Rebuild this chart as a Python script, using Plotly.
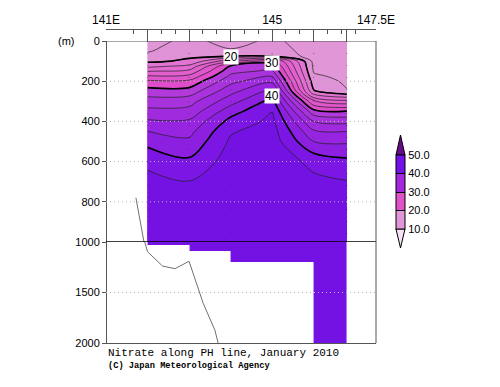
import plotly.graph_objects as go

# ---------------- data ----------------
station_lon = [142.0, 143.0, 144.0, 145.0, 146.0, 146.8]
depth_m = [0, 25, 50, 75, 100, 125, 150, 175, 200, 250, 300, 350, 400, 450, 500, 600, 700, 800, 1000]

no3_142E = [17.0, 17.4, 17.8, 18.6, 19.6, 21.4, 23.9, 26.2, 28.4, 30.9, 32.9, 34.6, 36.3, 38.05, 39.3, 41.7, 42.4, 42.7, 43.3]
no3_143E = [18.7, 19.05, 19.4, 19.75, 20.3, 22.5, 24.5, 26.5, 28.4, 30.9, 33.2, 34.7, 36.3, 37.4, 38.4, 40.4, 42.05, 42.6, 43.3]
no3_144E = [17.1, 17.6, 18.35, 20.0, 25.5, 30.25, 31.35, 32.4, 33.4, 35.3, 37.2, 39.15, 40.65, 41.8, 42.3, 42.9, 43.3, 43.5, 43.6]
no3_145E = [18.5, 18.8, 19.2, 19.7, 29.0, 31.0, 32.4, 33.9, 35.5, 38.7, 40.7, 41.95, 42.5, 42.9, 43.1, 43.4, 43.5, 43.5, 43.6]
no3_146E = [16.8, 16.9, 17.0, 17.2, 17.4, 17.6, 17.85, 18.3, 18.9, 20.2, 26.2, 30.7, 34.0, 36.3, 38.0, 41.4, 42.5, 42.8, 43.2]
no3_1468E = [16.8, 16.9, 17.0, 17.1, 17.2, 17.3, 17.4, 17.5, 17.7, 18.1, 24.6, 30.1, 33.4, 36.0, 37.7, 40.5, 42.1, 42.6, 43.0]

# deep part (below 1000 m): cell edges and values (None = below sea floor)
deep_lon_edges = [142.0, 143.0, 144.0, 146.0, 146.8]
deep_depth_edges = [1000, 1030, 1090, 1200, 2000]
deep_no3 = [
    [43.0, 43.0, 43.0, 43.0],
    [None, 43.0, 43.0, 43.0],
    [None, None, 43.0, 43.0],
    [None, None, None, 43.0],
]

# bottom topography profile
bathy_lon = [141.72, 141.94, 142.0, 142.36, 142.66, 143.0, 143.34, 143.62, 143.70]
bathy_depth = [780, 1010, 1096, 1238, 1264, 1191, 1607, 1871, 2000]

# contour labels (level, lon, depth)
label_levels = ["20", "30", "40"]
label_lon = [144.0, 145.0, 145.0]
label_depth = [78, 110, 272]

x_tick_vals = [141, 142, 143, 144, 145, 146, 146.8, 147.5]
x_tick_text = ["141E", "", "", "", "145", "", "", "147.5E"]
x_minor_vals = [141.67, 142.33, 142.67, 143.33, 143.67, 144.33, 144.67,
                145.33, 145.67, 146.33, 146.67, 147.0]
y_upper_ticks = [0, 200, 400, 600, 800, 1000]
y_lower_ticks = [1500, 2000]

cbar_levels = [10, 20, 30, 40, 50]
cbar_text = ["10.0", "20.0", "30.0", "40.0", "50.0"]

# ---------------- colours ----------------
band_mid = [9, 11, 13, 15, 17, 19, 21, 23, 25, 27, 29, 31, 33, 35, 37, 39, 41, 43, 45, 47, 49, 51]
band_col = ["#f3dff3", "#e198d8", "#e198d8", "#e198d8", "#e196d8", "#e092d7",
            "#e274d3", "#e26ad1", "#e160ce", "#e056cc", "#df4dca",
            "#b33ada", "#a832dc", "#9f2ade", "#9624e0", "#8d1fe1",
            "#7c16e5", "#7412e4", "#7010e2", "#7010e2", "#7010e2", "#640a8c"]
cs = [[(v - 9) / 42, c] for v, c in zip(band_mid, band_col)]

z = [list(r) for r in zip(no3_142E, no3_143E, no3_144E, no3_145E, no3_146E, no3_1468E)]

fig = go.Figure()

fig.add_trace(go.Contour(
    x=station_lon, y=depth_m, z=z, xaxis="x", yaxis="y",
    colorscale=cs, zmin=9, zmax=51, showscale=False,
    contours=dict(start=10, end=50, size=2, coloring="fill"),
    line=dict(color="#202020", width=0.7), hoverinfo="skip"))

fig.add_trace(go.Contour(
    x=station_lon, y=depth_m, z=z, xaxis="x", yaxis="y",
    colorscale=[[0, "black"], [1, "black"]], showscale=False,
    contours=dict(start=20, end=40, size=10, coloring="lines"),
    line=dict(width=1.6), hoverinfo="skip"))

fig.add_trace(go.Heatmap(
    x=deep_lon_edges, y=deep_depth_edges, z=deep_no3, xaxis="x2", yaxis="y2",
    colorscale=cs, zmin=9, zmax=51, showscale=False, hoverinfo="skip"))

for ya, xa in (("y", "x"), ("y2", "x2")):
    fig.add_trace(go.Scatter(x=bathy_lon, y=bathy_depth, xaxis=xa, yaxis=ya,
                             mode="lines", line=dict(color="#707070", width=1),
                             hoverinfo="skip", showlegend=False))

# colour bar (dummy trace)
cb_cs = [[0, "#e196d8"], [0.25, "#e196d8"], [0.25, "#e052c9"], [0.5, "#e052c9"],
         [0.5, "#a526dc"], [0.75, "#a526dc"], [0.75, "#7411e8"], [1, "#7411e8"]]
fig.add_trace(go.Scatter(
    x=[140], y=[500], xaxis="x", yaxis="y", mode="markers", showlegend=False,
    marker=dict(size=1, color=[30], cmin=10, cmax=50, colorscale=cb_cs, showscale=True,
                colorbar=dict(x=(396 - 106) / 270, xanchor="left", xpad=0, ypad=0,
                              y=(343 - 192) / 314, yanchor="middle",
                              lenmode="pixels", len=74, thickness=9,
                              outlinewidth=1, outlinecolor="black",
                              tickvals=cbar_levels, ticktext=cbar_text,
                              ticks="inside", ticklen=9, tickcolor="black", tickwidth=1,
                              tickfont=dict(family="Liberation Sans", size=11, color="black"))),
    hoverinfo="skip"))

axis_font = dict(family="Liberation Sans", size=11, color="black")
top_frac = (343 - 41) / 314
mid_frac = (343 - 242) / 314

# the page places the figure 8 px from the top-left corner
fig.update_layout(
    width=492, height=379, margin=dict(l=98, r=124, t=21, b=44, autoexpand=False),
    paper_bgcolor="white", plot_bgcolor="white", showlegend=False,
    xaxis=dict(range=[141, 147.5], anchor="free", position=1, side="top",
               tickvals=x_tick_vals, ticktext=x_tick_text, ticks="inside", ticklen=12,
               tickcolor="#555", showline=True, linecolor="#555", showgrid=False,
               zeroline=False, tickfont=dict(family="Liberation Sans", size=12, color="black"),
               minor=dict(tickvals=x_minor_vals, ticks="inside", ticklen=4, tickcolor="#555")),
    xaxis2=dict(range=[141, 147.5], matches="x", anchor="y2", showline=True, linecolor="#555",
                showticklabels=False, ticks="", showgrid=False, zeroline=False),
    yaxis=dict(domain=[mid_frac, top_frac], range=[1000, 0], anchor="free", position=0,
               tickvals=y_upper_ticks, ticks="outside", ticklen=4, tickcolor="#555",
               showline=True, linecolor="#555", showgrid=False, zeroline=False,
               tickfont=axis_font),
    yaxis2=dict(domain=[0, mid_frac], range=[2000, 1000], anchor="free", position=0,
                tickvals=y_lower_ticks, ticks="outside", ticklen=4, tickcolor="#555",
                showline=True, linecolor="#555", showgrid=False, zeroline=False,
                tickfont=axis_font),
)

shapes = []
for v in y_upper_ticks[1:-1]:
    shapes.append(dict(type="line", xref="x domain", yref="y", x0=0, x1=1, y0=v, y1=v,
                       line=dict(color="#b8b8b8", width=1, dash="1px,3px"), layer="above"))
shapes.append(dict(type="line", xref="x domain", yref="y2", x0=0, x1=1, y0=y_lower_ticks[0],
                   y1=y_lower_ticks[0], line=dict(color="#b8b8b8", width=1, dash="1px,3px"), layer="above"))
for lon in station_lon:
    shapes.append(dict(type="line", xref="x", yref="y", x0=lon, x1=lon, y0=0, y1=1000,
                       line=dict(color="rgba(40,40,40,0.5)", width=1, dash="1px,11px"), layer="above"))
# frame
shapes.append(dict(type="line", xref="x domain", yref="y", x0=0, x1=1, y0=0, y1=0,
                   line=dict(color="#555", width=1), layer="above"))
shapes.append(dict(type="line", xref="x domain", yref="y", x0=0, x1=1, y0=1000, y1=1000,
                   line=dict(color="black", width=1.3), layer="above"))
shapes.append(dict(type="line", xref="x domain", yref="paper", x0=1, x1=1, y0=0, y1=top_frac,
                   line=dict(color="#555", width=1), layer="above"))
# colour bar end triangles (page pixel -> paper fraction)
def px(xp, yp):
    return (xp - 106) / 270, (343 - yp) / 314
t = [px(396, 155), px(405, 155), px(400.5, 135)]
b = [px(396, 229), px(405, 229), px(400.5, 248)]
shapes.append(dict(type="path", xref="paper", yref="paper",
                   path="M %f %f L %f %f L %f %f Z" % (t[0] + t[1] + t[2]),
                   fillcolor="#650b8c", line=dict(color="black", width=1)))
shapes.append(dict(type="path", xref="paper", yref="paper",
                   path="M %f %f L %f %f L %f %f Z" % (b[0] + b[1] + b[2]),
                   fillcolor="#f6e4f6", line=dict(color="black", width=1)))
fig.update_layout(shapes=shapes)

ann = []
for txt, lo, d in zip(label_levels, label_lon, label_depth):
    ann.append(dict(x=lo, y=d, xref="x", yref="y", text=txt, showarrow=False,
                    xanchor="center", yanchor="middle", bgcolor="white", borderpad=0,
                    font=dict(family="Liberation Sans", size=12, color="black")))
ann.append(dict(x=(66 - 106) / 270, y=top_frac, xref="paper", yref="paper", text="(m)",
                xanchor="center", yanchor="middle", showarrow=False, font=axis_font))
ann.append(dict(x=0, y=(343 - 353) / 314, xref="paper", yref="paper", xanchor="left",
                yanchor="middle", text="Nitrate along PH line, January 2010", showarrow=False,
                font=dict(family="Liberation Mono", size=11, color="black")))
ann.append(dict(x=0, y=(343 - 366) / 314, xref="paper", yref="paper", xanchor="left",
                yanchor="middle", text="<b>(C) Japan Meteorological Agency</b>", showarrow=False,
                font=dict(family="Liberation Mono", size=8.7, color="black")))
fig.update_layout(annotations=ann)

fig.write_html("out.html")
